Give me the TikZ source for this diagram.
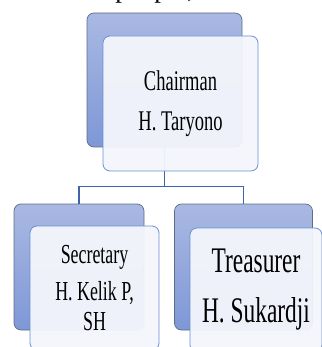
\documentclass[tikz,border=0pt]{standalone}
\usepackage{fontspec}
\setmainfont{Liberation Serif}
\newfontfamily\cond{Liberation Serif}[FakeStretch=0.65]
\usetikzlibrary{shadings}
\definecolor{backtop}{HTML}{A9B9E2}
\definecolor{backbot}{HTML}{7E97D6}
\definecolor{backdraw}{HTML}{5F6C86}
\definecolor{frontfill}{HTML}{F4F6FB}
\definecolor{frontdraw}{HTML}{6A8FD4}
\definecolor{linkc}{HTML}{3F63AE}
\tikzset{
  backbox/.style={rectangle, rounded corners=7pt, draw=backdraw, line width=0.7pt,
    top color=backtop, bottom color=backbot, inner sep=0pt},
  frontbox/.style={rectangle, rounded corners=7pt, draw=frontdraw, line width=0.8pt,
    fill=frontfill, fill opacity=0.95, text opacity=1, inner sep=0pt, align=center},
  link/.style={draw=linkc, line width=1.8pt}
}
\begin{document}
\begin{tikzpicture}[x=1pt,y=-1pt]
\useasboundingbox (0,0) rectangle (321,347);
\begin{scope}
\clip (0,0) rectangle (321,347);
\node[anchor=base, font=\fontsize{27}{30}\selectfont] (top) at (160,-2.5) {other people, which};
\end{scope}
% back boxes
\node[backbox, minimum width=155pt, minimum height=134pt] (cb) at (164.5,80) {};
\node[backbox, minimum width=130pt, minimum height=126pt] (sb) at (79,267) {};
\node[backbox, minimum width=138pt, minimum height=126pt] (tb) at (243.5,267) {};
% connectors
\coordinate (mid) at (164.5,186.5);
\draw[link] (cb.south) -- (mid);
\draw[link] (sb.north) |- (mid) -| (tb.north);
% front boxes
\node[frontbox, minimum width=155pt, minimum height=135pt,
  font=\cond\fontsize{28.5}{40}\selectfont] (cf) at (180.5,103.5)
  {Chairman\\ H. Taryono};
\node[frontbox, minimum width=129pt, minimum height=124pt,
  font=\cond\fontsize{27.5}{30}\selectfont] (sf) at (94.5,288)
  {Secretary\\[7pt] H. Kelik P,\\ SH};
\node[frontbox, minimum width=132pt, minimum height=124pt,
  font=\cond\fontsize{36}{50}\selectfont] (tf) at (256,290)
  {Treasurer\\ H. Sukardji};
\end{tikzpicture}
\end{document}
